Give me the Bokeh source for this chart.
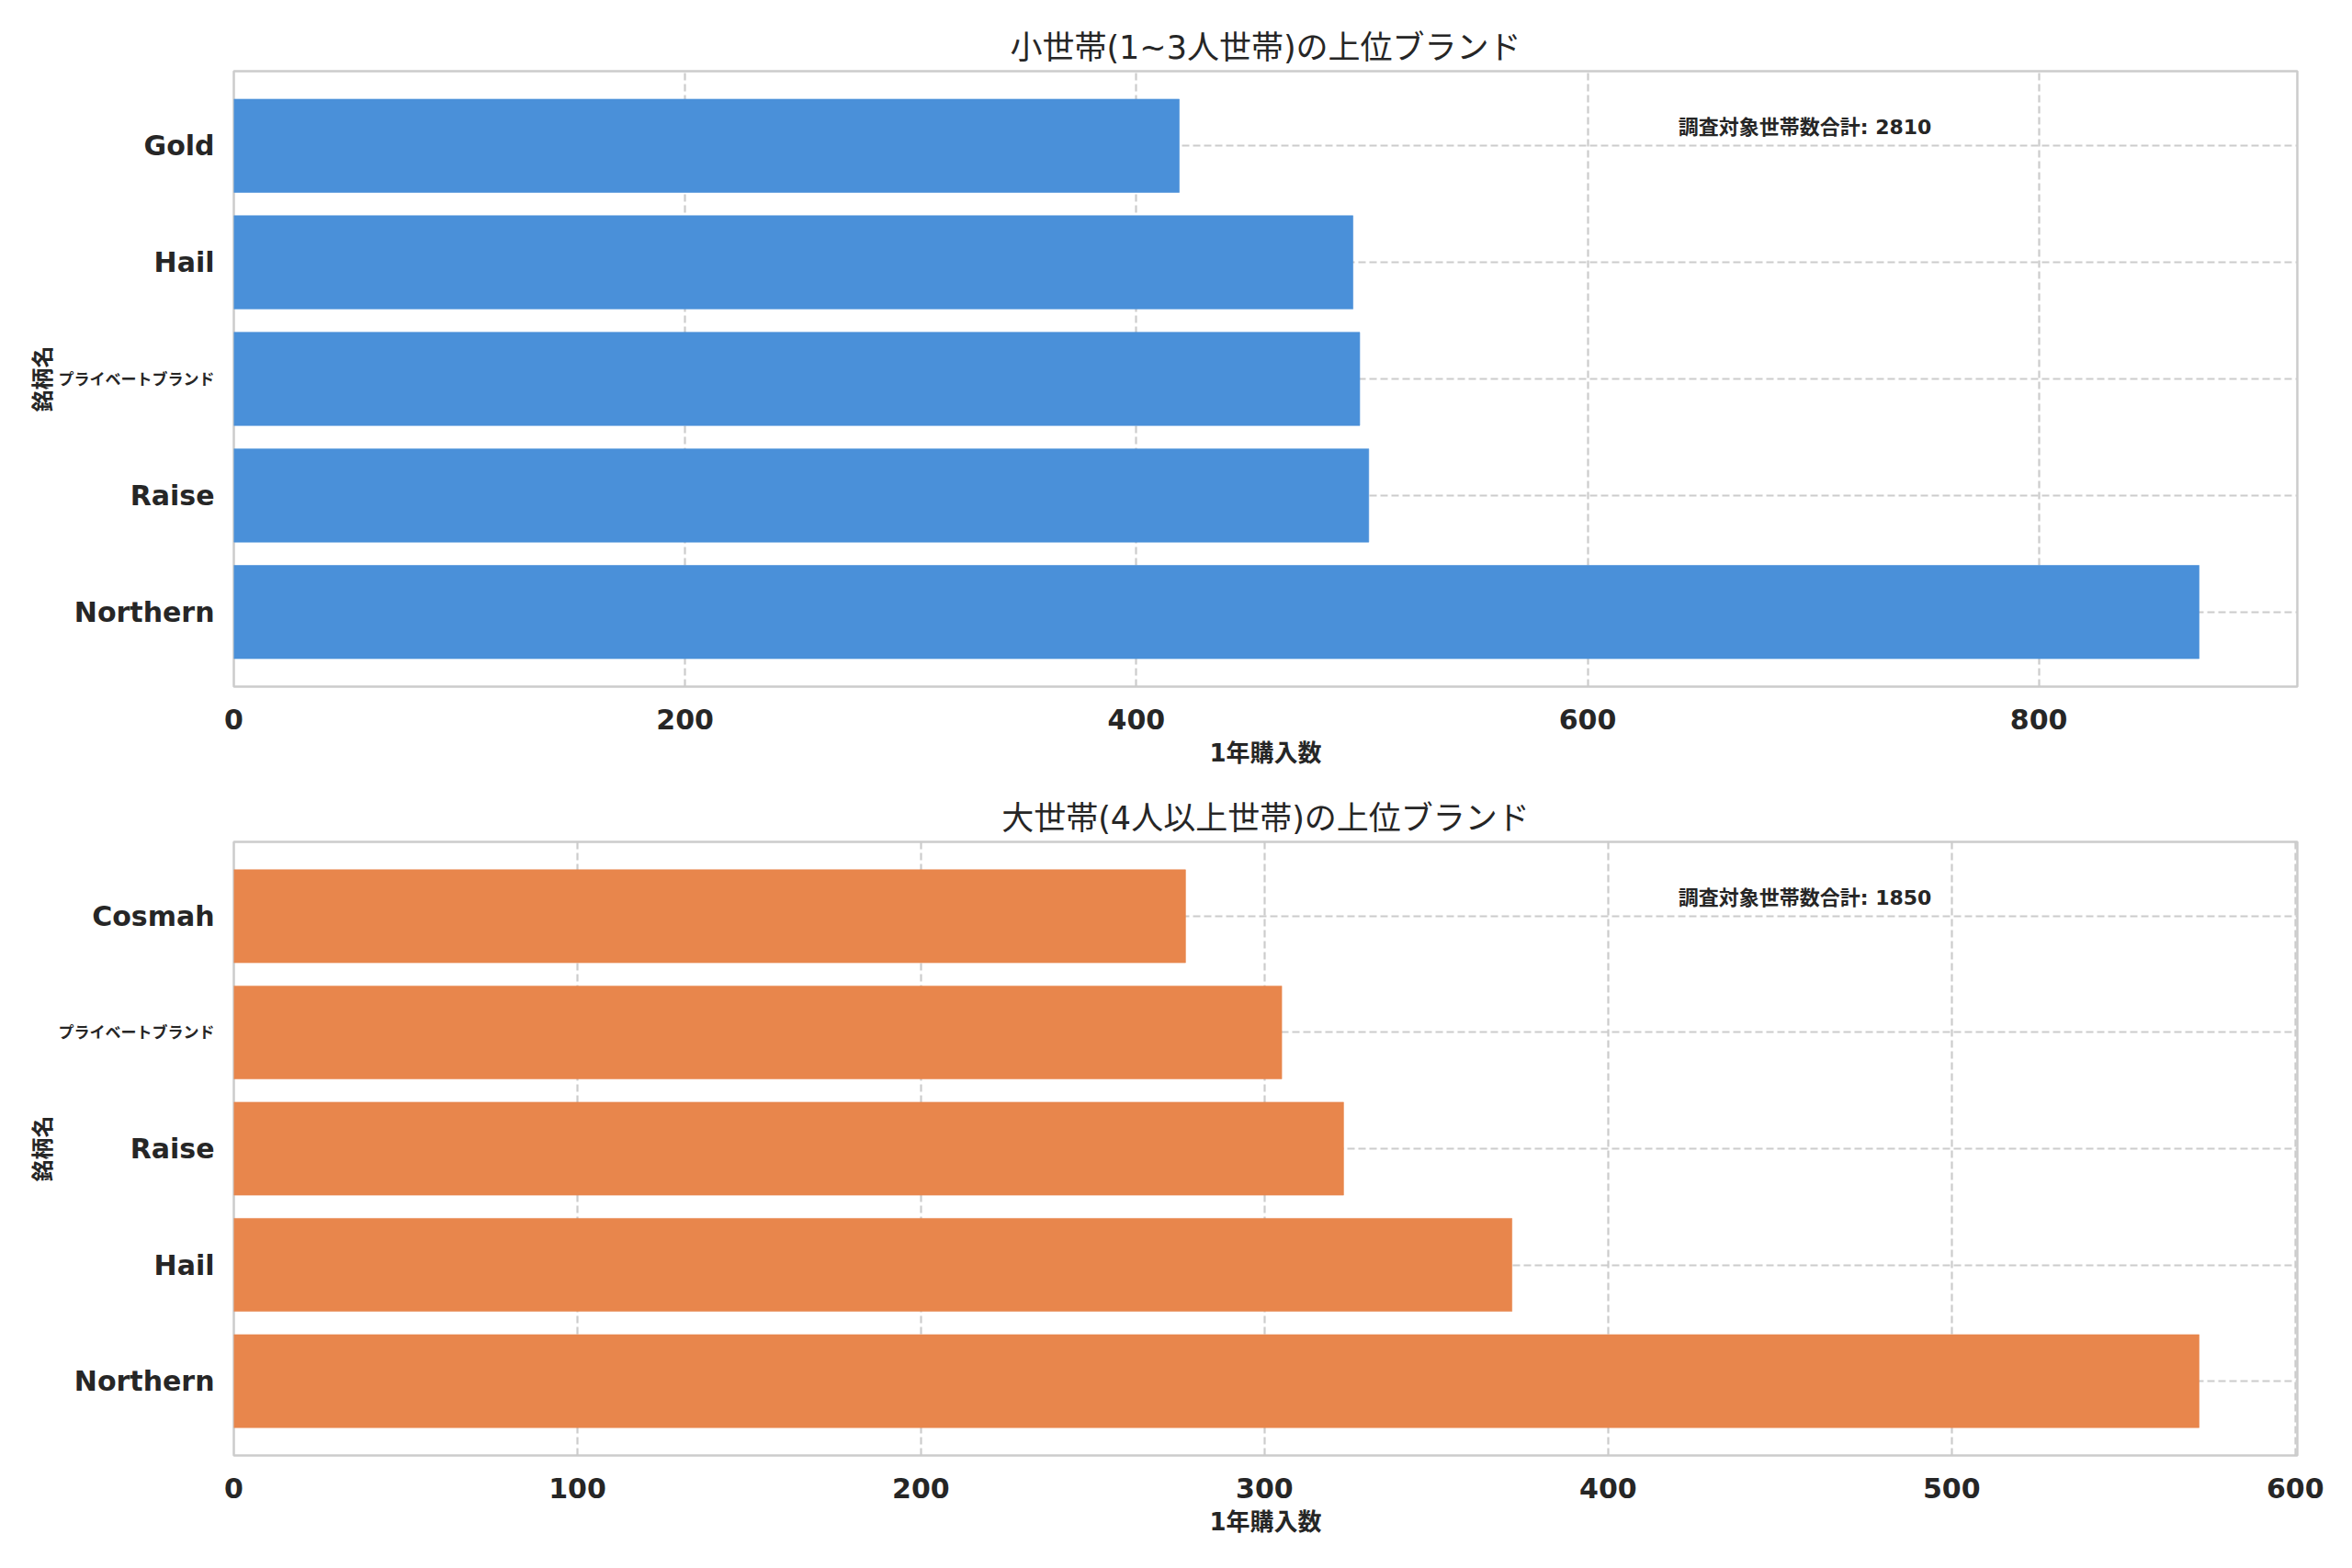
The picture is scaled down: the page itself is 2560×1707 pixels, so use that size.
import re
import math
from bokeh.plotting import figure
from bokeh.layouts import column, row
from bokeh.models import ColumnDataSource, FixedTicker, Label
from bokeh.core.properties import value
from bokeh.embed import file_html
from bokeh.resources import INLINE

# ---- data ----
title_small = "小世帯(1~3人世帯)の上位ブランド"
title_large = "大世帯(4人以上世帯)の上位ブランド"
x_label = "1年購入数"
y_label = "銘柄名"
note_label = "調査対象世帯数合計"

brands_small = ["Northern", "Raise", "プライベートブランド", "Hail", "Gold"]
values_small = [871, 503, 499, 496, 419]
total_small = 2810
ticks_small = [0, 200, 400, 600, 800]

brands_large = ["Northern", "Hail", "Raise", "プライベートブランド", "Cosmah"]
values_large = [572, 372, 323, 305, 277]
total_large = 1850
ticks_large = [0, 100, 200, 300, 400, 500, 600]

BLUE = "#4A90D9"
ORANGE = "#E8864C"
TEXT = "#262626"
GRID = "#cccccc"
FONT = "DejaVu Sans, Noto Sans CJK JP"
CJK = re.compile(r"[\u3040-\u30ff\u4e00-\u9fff]")

STRIP_W = 240     # width of the label strip left of each plot
PLOT_PAD = 14     # border left of each plot frame


def make_panel(brands, vals, total, ticks, color, title, top_border, bottom_border, frame_h):
    bar_h = 0.8
    idx = list(range(len(brands)))
    lo = -bar_h / 2
    hi = len(brands) - 1 + bar_h / 2
    pad = (hi - lo) * 0.05
    ylo, yhi = lo - pad, hi + pad
    xmax = max(vals) * 1.05

    p = figure(frame_width=2246, frame_height=frame_h,
               x_range=(0, xmax), y_range=(ylo, yhi),
               y_axis_location=None,
               output_backend="svg", toolbar_location=None,
               min_border_left=PLOT_PAD, min_border_right=40,
               min_border_top=top_border, min_border_bottom=bottom_border,
               background_fill_color="white", border_fill_color="white")
    p.title.text = title
    p.title.align = "center"
    p.title.text_font = FONT
    p.title.text_font_size = "35px"
    p.title.text_font_style = "normal"
    p.title.text_color = TEXT
    p.title.standoff = 11

    p.outline_line_color = GRID
    p.outline_line_width = 2.5

    src = ColumnDataSource(dict(y=idx, v=vals))
    p.hbar(y="y", left=0, right="v", height=bar_h, source=src,
           fill_color=color, line_color=color, line_alpha=0.6)

    # x axis
    xa = p.xaxis[0]
    xa.ticker = FixedTicker(ticks=ticks)
    xa.axis_line_color = None
    xa.major_tick_line_color = None
    xa.minor_tick_line_color = None
    xa.major_label_text_font = FONT
    xa.major_label_text_font_style = "bold"
    xa.major_label_text_font_size = "30px"
    xa.major_label_text_color = TEXT
    xa.major_label_standoff = 18
    xa.axis_label = x_label
    xa.axis_label_text_font = FONT
    xa.axis_label_text_font_style = "bold"
    xa.axis_label_text_font_size = "26px"
    xa.axis_label_text_color = TEXT
    xa.axis_label_standoff = 8

    for g in (p.xgrid[0], p.ygrid[0]):
        g.grid_line_color = GRID
        g.grid_line_width = 2.2
        g.grid_line_dash = "8 4"
    p.xgrid[0].ticker = FixedTicker(ticks=ticks)
    p.ygrid[0].ticker = FixedTicker(ticks=idx)

    note = Label(x=0.70 * xmax, y=ylo + 0.909 * (yhi - ylo),
                 text=f"{note_label}: {total}",
                 text_align="left", text_baseline="middle",
                 text_font=FONT, text_font_style="bold",
                 text_font_size="22px", text_color=TEXT)
    p.add_layout(note)

    # left strip holding category labels and the y-axis title, sharing y scale
    q = figure(frame_width=STRIP_W, frame_height=frame_h,
               x_range=(0, 1), y_range=p.y_range,
               x_axis_location=None, y_axis_location=None,
               output_backend="svg", toolbar_location=None,
               min_border_left=0, min_border_right=0,
               min_border_top=top_border, min_border_bottom=bottom_border,
               background_fill_color="white", border_fill_color="white",
               outline_line_color=None)
    q.grid.visible = False
    sizes = ["17px" if CJK.search(b) else "30px" for b in brands]
    lab = ColumnDataSource(dict(y=idx, x=[1] * len(brands), t=brands, s=sizes))
    q.text(x="x", y="y", text="t", source=lab, x_offset=-(21 - PLOT_PAD),
           text_align="right", text_baseline="middle",
           text_font=value(FONT), text_font_style="bold",
           text_font_size="s", text_color=TEXT)
    q.text(x=[0], y=[(ylo + yhi) / 2], text=[y_label], x_offset=46,
           angle=math.pi / 2, text_align="center", text_baseline="middle",
           text_font=value(FONT), text_font_style="bold",
           text_font_size="24px", text_color=TEXT)
    return row(q, p, spacing=0)


r1 = make_panel(brands_small, values_small, total_small, ticks_small, BLUE,
                title_small, 77, 109, 670)
r2 = make_panel(brands_large, values_large, total_large, ticks_large, ORANGE,
                title_large, 60, 100, 668)

layout = column(r1, r2, spacing=0)
open("out.html", "w").write(file_html(layout, INLINE))
